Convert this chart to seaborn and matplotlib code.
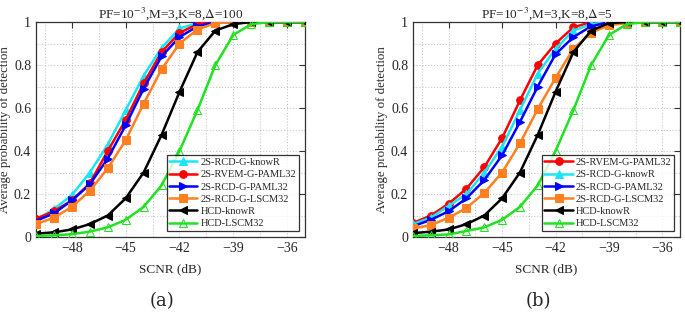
import numpy as np
import pandas as pd
import matplotlib
matplotlib.use('Agg')
import matplotlib.pyplot as plt
import seaborn as sns
from matplotlib.ticker import MultipleLocator, FormatStrFormatter

scnr = list(range(-50, -34))

# panel (a), delta = 100
a_rcd_knowr = [0.08, 0.13, 0.195, 0.30, 0.43, 0.59, 0.75, 0.88, 0.97, 0.995, 1, 1, 1, 1, 1, 1]
a_rvem_paml = [0.085, 0.12, 0.17, 0.25, 0.40, 0.545, 0.715, 0.86, 0.95, 0.99, 1, 1, 1, 1, 1, 1]
a_rcd_paml = [0.075, 0.11, 0.17, 0.245, 0.365, 0.52, 0.69, 0.84, 0.93, 0.98, 1, 1, 1, 1, 1, 1]
a_rcd_lscm = [0.06, 0.09, 0.14, 0.215, 0.32, 0.45, 0.62, 0.78, 0.90, 0.965, 0.995, 1, 1, 1, 1, 1]
a_hcd_knowr = [0.015, 0.022, 0.035, 0.06, 0.10, 0.18, 0.30, 0.475, 0.675, 0.86, 0.96, 0.99, 1, 1, 1, 1]
a_hcd_lscm = [0.005, 0.008, 0.013, 0.025, 0.045, 0.08, 0.14, 0.24, 0.40, 0.59, 0.80, 0.94, 0.99, 1, 1, 1]

# panel (b), delta = 5
b_rvem_paml = [0.065, 0.10, 0.155, 0.225, 0.325, 0.46, 0.635, 0.80, 0.90, 0.975, 1, 1, 1, 1, 1, 1]
b_rcd_knowr = [0.06, 0.09, 0.145, 0.20, 0.30, 0.42, 0.59, 0.76, 0.875, 0.96, 0.99, 1, 1, 1, 1, 1]
b_rcd_paml = [0.05, 0.08, 0.12, 0.18, 0.265, 0.38, 0.535, 0.70, 0.85, 0.93, 0.98, 1, 1, 1, 1, 1]
b_rcd_lscm = [0.04, 0.055, 0.09, 0.135, 0.205, 0.30, 0.435, 0.595, 0.74, 0.875, 0.95, 0.985, 0.995, 1, 1, 1]
b_hcd_knowr = [0.018, 0.025, 0.035, 0.06, 0.10, 0.18, 0.30, 0.475, 0.675, 0.86, 0.96, 0.995, 1, 1, 1, 1]
b_hcd_lscm = [0.005, 0.008, 0.012, 0.028, 0.045, 0.08, 0.14, 0.24, 0.40, 0.59, 0.80, 0.94, 0.99, 1, 1, 1]

styles = {
    '2S-RCD-G-knowR': dict(color='#19e6f5', marker='^', mfc='#19e6f5'),
    '2S-RVEM-G-PAML32': dict(color='#ff0000', marker='o', mfc='#ff0000'),
    '2S-RCD-G-PAML32': dict(color='#0000ff', marker='>', mfc='#0000ff'),
    '2S-RCD-G-LSCM32': dict(color='#ff8020', marker='s', mfc='#ff8020'),
    'HCD-knowR': dict(color='#000000', marker='<', mfc='#000000'),
    'HCD-LSCM32': dict(color='#22e022', marker='^', mfc='none'),
}

panels = [
    ('PF=10$^{-3}$,M=3,K=8,$\\Delta$=100', '(a)',
     [('2S-RCD-G-knowR', a_rcd_knowr), ('2S-RVEM-G-PAML32', a_rvem_paml),
      ('2S-RCD-G-PAML32', a_rcd_paml), ('2S-RCD-G-LSCM32', a_rcd_lscm),
      ('HCD-knowR', a_hcd_knowr), ('HCD-LSCM32', a_hcd_lscm)]),
    ('PF=10$^{-3}$,M=3,K=8,$\\Delta$=5', '(b)',
     [('2S-RVEM-G-PAML32', b_rvem_paml), ('2S-RCD-G-knowR', b_rcd_knowr),
      ('2S-RCD-G-PAML32', b_rcd_paml), ('2S-RCD-G-LSCM32', b_rcd_lscm),
      ('HCD-knowR', b_hcd_knowr), ('HCD-LSCM32', b_hcd_lscm)]),
]

sns.set_style('white')
plt.rcParams['font.family'] = ['Liberation Serif', 'DejaVu Serif']
plt.rcParams['mathtext.fontset'] = 'stix'

fig = plt.figure(figsize=(6.85, 3.15), dpi=100)
positions = [[0.0526, 0.2476, 0.3927, 0.6825], [0.603, 0.2476, 0.390, 0.6825]]

for pos, (title, tag, series) in zip(positions, panels):
    ax = fig.add_axes(pos)
    for name, vals in series:
        st = styles[name]
        df = pd.DataFrame({'SCNR': scnr, 'Pd': vals})
        sns.lineplot(data=df, x='SCNR', y='Pd', ax=ax, color=st['color'],
                     marker=st['marker'], markerfacecolor=st['mfc'],
                     markeredgecolor=st['color'], markersize=5.5,
                     linewidth=1.8, label=name, zorder=3)
    ax.set_xlim(-50, -35)
    ax.set_ylim(0, 1)
    ax.xaxis.set_major_locator(MultipleLocator(3))
    ax.xaxis.set_minor_locator(MultipleLocator(1.5))
    ax.yaxis.set_major_locator(MultipleLocator(0.2))
    ax.yaxis.set_minor_locator(MultipleLocator(0.1))
    ax.set_xticks([-48, -45, -42, -39, -36])
    ax.yaxis.set_major_formatter(FormatStrFormatter('%g'))
    ax.grid(True, which='both', linestyle=':', color='#c8c8c8', linewidth=0.8)
    ax.tick_params(which='major', direction='in', length=4, top=True, right=True,
                   labelsize=10, color='#333333')
    ax.tick_params(which='minor', length=0)
    for s in ax.spines.values():
        s.set_color('#333333')
        s.set_linewidth(0.9)
    ax.set_title(title, fontsize=9.5, pad=3)
    ax.set_xlabel('SCNR (dB)', fontsize=9.5, labelpad=6)
    ax.set_ylabel('Average probability of detection', fontsize=9.3, labelpad=2)
    leg = ax.legend(loc='lower right', fontsize=7.5, frameon=True, fancybox=False,
                    edgecolor='black', handlelength=2.7, labelspacing=0.28,
                    borderpad=0.25, borderaxespad=0.6, handletextpad=0.3)
    leg.get_frame().set_linewidth(0.9)
    fig.text(pos[0] + pos[2] / 2 - 0.012, 0.045, tag, fontsize=13,
             ha='center', va='center', family='DejaVu Serif')

fig.savefig('out.png', dpi=100)
